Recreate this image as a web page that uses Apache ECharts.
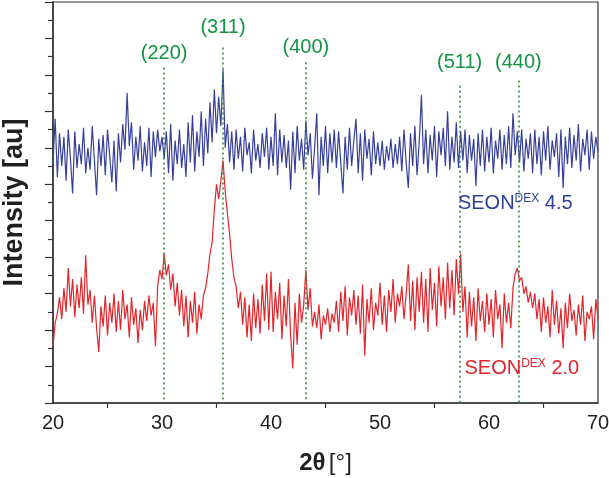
<!DOCTYPE html>
<html><head><meta charset="utf-8">
<script src="https://cdn.jsdelivr.net/npm/echarts@6/dist/echarts.min.js"></script>
<style>html,body{margin:0;padding:0;background:#fff}#c{width:609px;height:478px}</style>
</head><body><div id="c"></div>
<script>
// 2θ measurement grid
const twoThetaStart = 20;
const twoThetaStep = 0.2;
// SEON^DEX 4.5 intensity (a.u., offset)
const seon45 = [
13.2,15.6,12.4,14.8,13.0,14.6,12.2,15.0,13.4,11.5,
14.9,12.9,14.2,13.1,15.1,12.6,14.0,12.8,15.2,13.3,
11.4,14.5,13.0,14.7,12.5,15.0,13.6,12.1,14.4,11.6,
14.8,13.2,15.3,13.9,17.0,14.1,15.4,12.8,14.6,13.3,
15.2,12.7,14.3,13.0,15.1,12.4,14.9,13.5,15.0,13.8,
14.6,13.4,14.9,12.6,15.3,12.2,14.4,13.1,15.0,12.9,
14.2,12.4,15.4,13.2,15.8,12.7,14.9,13.5,16.0,13.0,
15.6,13.7,16.5,14.3,17.2,14.8,16.8,15.2,18.3,14.0,
15.3,13.2,14.9,12.8,15.0,13.4,14.6,12.7,15.1,13.6,
14.3,12.6,15.0,13.3,14.2,12.9,14.8,13.5,15.1,12.8,
14.6,13.0,15.9,12.5,15.0,13.2,14.7,12.9,14.4,11.7,
14.9,12.6,15.2,13.3,14.5,12.8,15.5,13.6,14.8,12.3,
14.0,15.9,11.4,14.6,13.0,15.2,12.6,14.8,13.2,15.0,
12.9,14.9,13.2,11.5,14.6,12.8,15.1,13.0,14.4,15.6,
12.6,14.8,12.2,15.0,13.4,14.5,12.5,14.9,13.1,14.3,
13.0,14.4,12.8,14.1,13.3,14.5,12.9,14.2,13.1,14.6,
12.7,15.0,13.2,11.8,14.8,13.0,15.2,12.5,14.3,16.9,
13.1,15.0,12.6,14.7,13.3,15.2,12.4,14.9,13.6,15.1,
13.0,16.0,12.8,14.6,13.2,15.4,12.9,14.9,13.3,15.0,
12.6,14.7,13.3,14.5,11.9,14.8,13.0,15.0,12.7,14.6,
13.2,15.1,12.6,14.4,13.4,15.0,12.8,14.7,13.1,15.2,
12.9,15.9,13.6,14.9,13.2,15.0,12.7,14.5,13.4,14.8,
12.6,15.0,13.1,14.6,12.5,14.9,13.3,15.2,12.8,14.4,
13.5,14.8,12.4,15.0,11.8,14.6,13.1,15.1,12.9,14.7,
13.3,15.3,12.7,14.5,13.6,15.0,12.8,14.9,13.4,14.6,
13.8];
// SEON^DEX 2.0 intensity (a.u.)
const seon20 = [
3.1,4.4,4.9,5.8,4.6,6.3,5.0,7.4,5.3,6.8,
4.7,6.5,5.2,6.9,4.9,8.1,5.4,6.2,4.4,5.9,
4.1,2.8,5.3,4.2,5.9,3.7,5.5,4.4,6.0,3.9,
5.6,4.0,6.2,4.6,5.4,3.6,5.8,4.3,5.2,3.3,
5.1,4.0,5.6,4.5,5.9,4.8,5.5,3.1,6.4,7.3,
6.8,8.2,7.0,7.6,6.2,7.1,5.3,6.6,4.8,6.2,
4.2,5.9,3.6,5.6,4.4,6.1,3.8,5.4,4.6,5.9,
6.3,7.1,8.2,8.8,10.6,12.0,11.2,12.2,13.3,11.6,
10.4,9.3,7.9,6.9,6.4,5.2,6.1,4.3,5.8,3.6,
5.4,3.4,6.0,4.1,5.7,3.8,6.5,4.5,7.1,4.0,
7.2,3.9,6.1,4.6,6.6,3.5,5.9,4.2,6.8,3.7,
1.9,5.5,3.2,6.0,4.4,5.4,7.3,5.1,6.3,4.2,
5.0,4.1,5.4,3.5,4.8,4.3,5.2,3.9,4.9,4.4,
5.6,3.9,6.1,4.5,6.4,3.7,5.8,4.8,6.2,4.3,
5.9,3.8,6.5,2.6,5.7,4.4,6.3,4.0,5.5,4.8,
6.6,4.3,5.9,3.9,6.2,5.0,6.8,4.4,6.0,5.3,
6.4,4.6,6.0,7.6,4.5,6.7,4.0,6.9,5.0,7.2,
4.4,6.8,3.9,7.4,5.1,6.6,4.2,7.5,5.3,6.9,
4.6,7.7,5.2,7.3,4.8,7.9,6.0,8.2,5.0,6.4,
3.6,6.1,4.2,5.8,3.4,6.3,4.5,5.6,3.9,6.0,
4.3,5.7,3.6,6.2,4.6,5.4,3.0,6.0,4.4,5.5,
4.1,6.3,7.1,7.4,6.7,6.9,6.0,6.4,5.5,6.1,
5.2,6.0,4.6,5.7,3.9,5.8,4.4,5.3,3.6,6.2,
4.3,5.6,3.8,5.2,3.0,5.5,4.1,6.0,4.5,5.1,
3.7,5.4,4.3,5.9,3.4,5.0,4.6,5.3,3.5,5.7,
4.6];
// Reflections
const peakLabels = ['(220)','(311)','(400)','(511)','(440)'];
const peakPositions = [30.2, 35.6, 43.2, 57.3, 62.7];
const peakLineTops = [18.4, 19.5, 18.7, 17.4, 17.7];
const peakLabelHeights = [19.2, 20.6, 19.5, 18.7, 18.7];
// Sample labels
const sampleNames = ['SEON', 'SEON'];
const sampleSup = ['DEX', 'DEX'];
const sampleValues = ['4.5', '2.0'];
const sampleLabelAt = [[57.15, 11.0], [57.75, 1.95]];

const FONT = '"Liberation Sans", Arial, Helvetica, sans-serif';
const BLUE = '#37419c', RED = '#e2252b', GREEN = '#139443', DOT = '#2f8a40';
const LBLUE = '#2f3f98', LRED = '#e3222a';

function pairs(vals){
  const out = [];
  for (let i = 0; i < vals.length; i++) {
    out.push([+(twoThetaStart + i * twoThetaStep).toFixed(2), vals[i]]);
  }
  return out;
}

const chart = echarts.init(document.getElementById('c'), null, {renderer:'canvas'});
chart.setOption({
  animation: false,
  backgroundColor: '#fff',
  grid: {left: 53, right: 11, top: 2, bottom: 75, containLabel: false, outerBoundsMode: 'none',
    show: true, borderColor: '#333', borderWidth: 1.2, backgroundColor: 'transparent'},
  xAxis: {
    type: 'value', min: 20, max: 70, interval: 10,
    axisLine: {lineStyle: {color: '#333', width: 1.5}},
    axisTick: {show: false},
    minorTick: {show: true, splitNumber: 2, length: 5, lineStyle: {color: '#333', width: 1.2}},
    splitLine: {show: false},
    axisLabel: {color: '#231f20', fontSize: 20, fontFamily: FONT, margin: 10},
    name: '{b|2θ} {r|[°]}',
    nameLocation: 'middle', nameGap: 48,
    nameTextStyle: {rich: {
      b: {fontSize: 24, fontWeight: 'bold', fontFamily: FONT, color: '#231f20'},
      r: {fontSize: 24, fontFamily: FONT, color: '#231f20'}
    }}
  },
  yAxis: {
    type: 'value', min: 0, max: 22, interval: 2,
    axisLine: {show: true, lineStyle: {color: '#333', width: 1.5}},
    axisTick: {show: true, length: 8, lineStyle: {color: '#333', width: 1.2}},
    minorTick: {show: true, splitNumber: 2, length: 5, lineStyle: {color: '#333', width: 1.2}},
    splitLine: {show: false},
    axisLabel: {show: false},
    name: 'Intensity [au]', nameLocation: 'middle', nameGap: 25,
    nameTextStyle: {fontSize: 27, fontWeight: 'bold', fontFamily: FONT, color: '#231f20'}
  },
  series: [
    {type: 'line', data: pairs(seon45), symbol: 'none', lineStyle: {color: BLUE, width: 1.2}, z: 2},
    {type: 'line', data: pairs(seon20), symbol: 'none', lineStyle: {color: RED, width: 1.2}, z: 2},
    {type: 'scatter', symbolSize: 0, z: 5, itemStyle: {opacity: 1, color: GREEN},
      data: peakPositions.map((p, i) => ({value: [p, peakLabelHeights[i]], name: peakLabels[i]})),
      label: {show: true, position: 'inside', formatter: p => p.name, color: GREEN, fontSize: 20, fontFamily: FONT},
      markLine: {
        silent: true, symbol: ['none', 'none'],
        lineStyle: {color: DOT, type: [2, 3], width: 1.6, opacity: 1},
        label: {show: false},
        data: peakPositions.map((p, i) => [{coord: [p, peakLineTops[i]]}, {coord: [p, 0]}])
      }
    },
    {type: 'scatter', symbolSize: 0, z: 6, itemStyle: {opacity: 1},
      data: sampleLabelAt.map((c, i) => ({value: c, name: i})),
      label: {show: true, position: 'right', distance: 0,
        formatter: p => {
          const k = p.dataIndex === 0 ? 'B' : 'R';
          return '{a' + k + '|' + sampleNames[p.dataIndex] + '}{s' + k + '|' + sampleSup[p.dataIndex] + '}{a' + k + '| ' + sampleValues[p.dataIndex] + '}';
        },
        rich: {
          aB: {fontSize: 20, fontFamily: FONT, color: LBLUE, verticalAlign: 'bottom', lineHeight: 22},
          sB: {fontSize: 12, fontFamily: FONT, color: LBLUE, verticalAlign: 'top', lineHeight: 22, padding: [1, 0, 0, 0]},
          aR: {fontSize: 20, fontFamily: FONT, color: LRED, verticalAlign: 'bottom', lineHeight: 22},
          sR: {fontSize: 12, fontFamily: FONT, color: LRED, verticalAlign: 'top', lineHeight: 22, padding: [1, 0, 0, 0]}
        }
      }
    }
  ]
});
</script>
</body></html>
